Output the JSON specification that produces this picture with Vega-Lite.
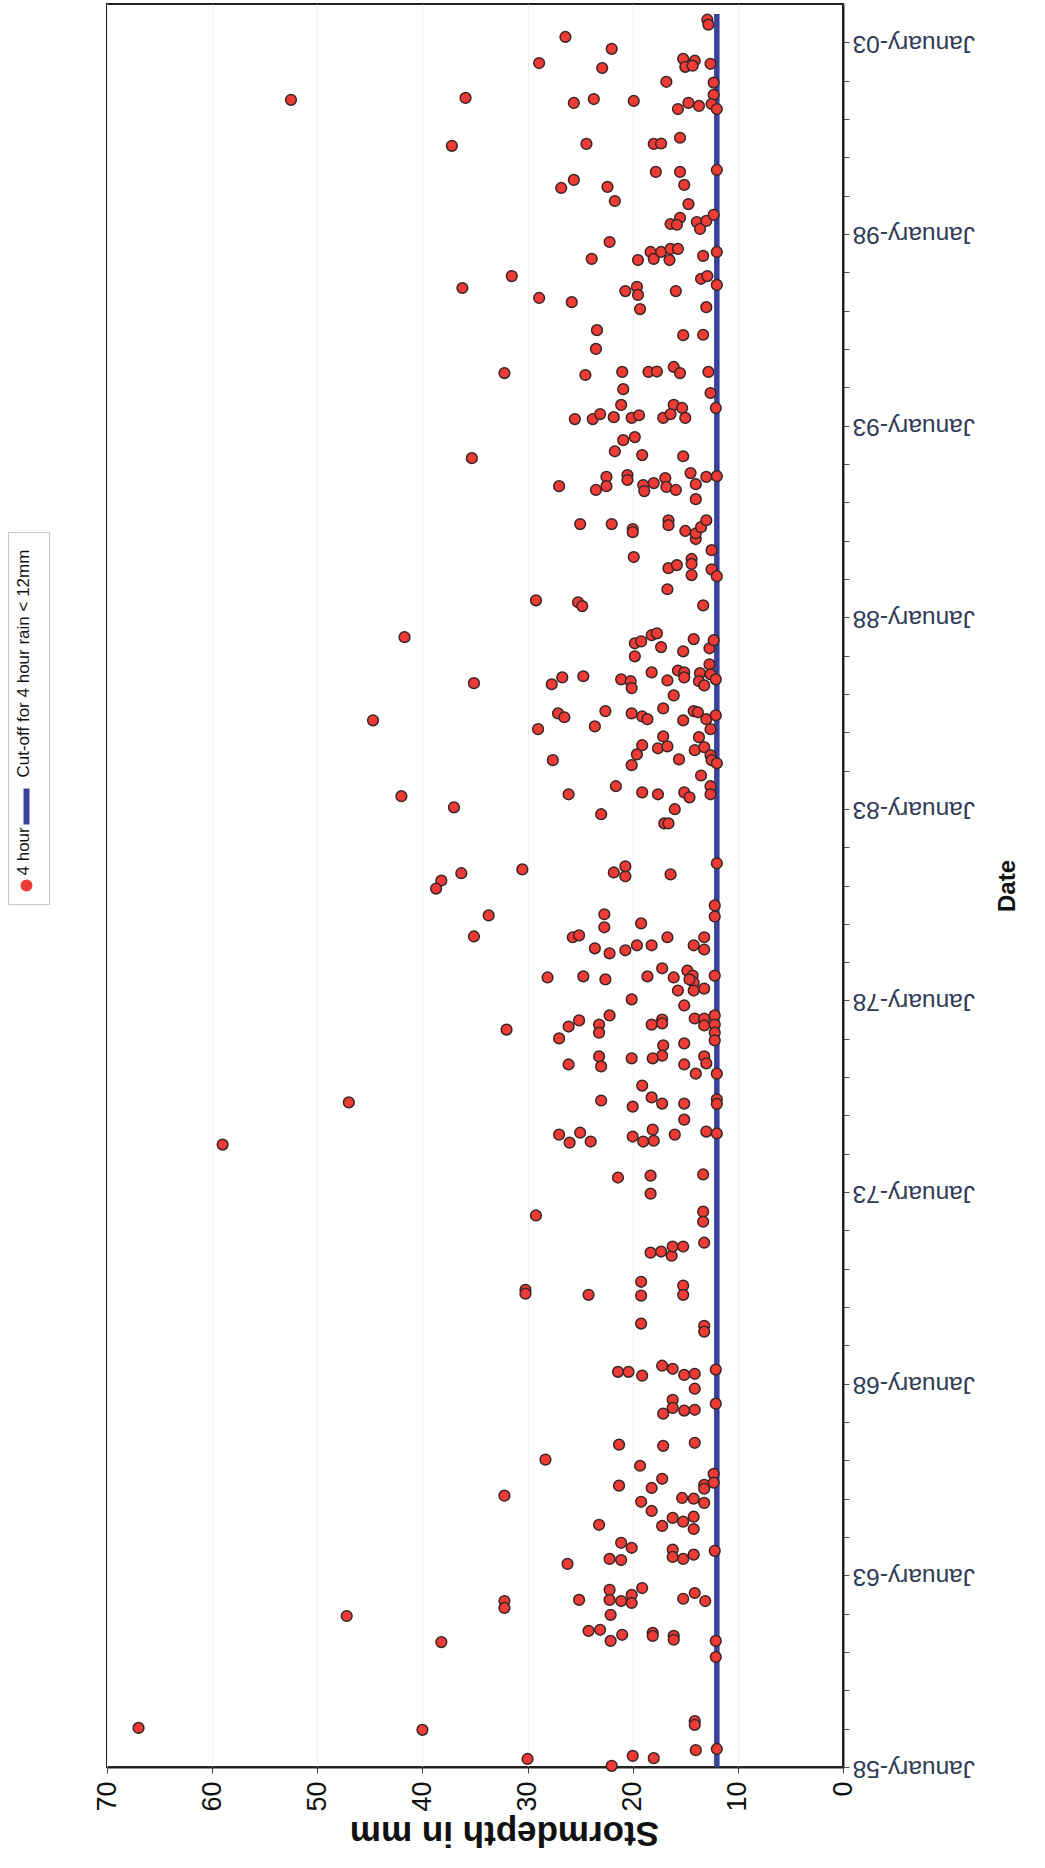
{
  "$schema": "https://vega.github.io/schema/vega-lite/v6.json",
  "width": 736,
  "height": 1763,
  "autosize": {"type": "none"},
  "padding": {"left": 107, "top": 4, "right": 202, "bottom": 101},
  "background": "white",
  "config": {
    "font": "Liberation Sans",
    "view": {"stroke": "#222", "strokeWidth": 2}
  },
  "datasets": {
    "rain": [
      {"t":2003.59,"d":12.9},{"t":2003.46,"d":12.8},{"t":2003.14,"d":26.4},{"t":2002.83,"d":22.0},{"t":2002.46,"d":28.9},{"t":2002.33,"d":22.9},{"t":2002.57,"d":15.2},{"t":2002.36,"d":15.0},{"t":2002.52,"d":14.1},{"t":2002.39,"d":14.3},{"t":2002.44,"d":12.6},{"t":2001.97,"d":16.8},{"t":2001.95,"d":12.3},{"t":2001.63,"d":12.3},{"t":2001.50,"d":52.5},{"t":2001.55,"d":35.9},{"t":2001.42,"d":25.6},{"t":2001.52,"d":23.7},{"t":2001.47,"d":19.9},{"t":2001.26,"d":15.7},{"t":2001.42,"d":14.7},{"t":2001.34,"d":13.7},{"t":2001.39,"d":12.5},{"t":2001.26,"d":12.0},{"t":2000.30,"d":37.2},{"t":2000.35,"d":24.4},{"t":2000.35,"d":18.0},{"t":2000.36,"d":17.3},{"t":2000.51,"d":15.5},{"t":1999.67,"d":12.0},{"t":1999.62,"d":17.8},{"t":1999.62,"d":15.5},{"t":1999.28,"d":15.1},{"t":1999.41,"d":25.6},{"t":1999.20,"d":26.8},{"t":1999.23,"d":22.4},{"t":1998.86,"d":21.7},{"t":1998.78,"d":14.7},{"t":1998.42,"d":15.5},{"t":1998.26,"d":16.4},{"t":1998.24,"d":15.8},{"t":1998.31,"d":13.9},{"t":1998.13,"d":13.6},{"t":1998.34,"d":13.0},{"t":1998.50,"d":12.3},{"t":1997.79,"d":22.2},{"t":1997.35,"d":23.9},{"t":1997.32,"d":19.5},{"t":1997.53,"d":18.3},{"t":1997.35,"d":18.0},{"t":1997.53,"d":17.3},{"t":1997.32,"d":16.5},{"t":1997.61,"d":16.4},{"t":1997.61,"d":15.7},{"t":1997.43,"d":13.3},{"t":1997.53,"d":12.0},{"t":1996.90,"d":31.5},{"t":1996.59,"d":36.2},{"t":1996.51,"d":20.7},{"t":1996.62,"d":19.6},{"t":1996.41,"d":19.5},{"t":1996.51,"d":15.9},{"t":1996.83,"d":13.5},{"t":1996.90,"d":12.9},{"t":1996.67,"d":12.0},{"t":1996.33,"d":28.9},{"t":1996.22,"d":25.8},
      {"t":1996.04,"d":19.3},{"t":1996.09,"d":13.0},{"t":1995.49,"d":23.4},{"t":1995.00,"d":23.5},{"t":1995.36,"d":15.2},{"t":1995.37,"d":13.3},{"t":1994.37,"d":32.2},{"t":1994.32,"d":24.5},{"t":1994.40,"d":21.0},{"t":1994.40,"d":18.5},{"t":1994.41,"d":17.7},{"t":1994.53,"d":16.1},{"t":1994.37,"d":15.5},{"t":1994.40,"d":12.8},{"t":1993.95,"d":20.9},{"t":1993.85,"d":12.6},{"t":1993.46,"d":12.1},{"t":1993.54,"d":21.1},{"t":1993.54,"d":16.1},{"t":1993.46,"d":15.3},{"t":1993.17,"d":25.5},{"t":1993.17,"d":23.8},{"t":1993.30,"d":23.1},{"t":1993.22,"d":21.8},{"t":1993.20,"d":20.1},{"t":1993.27,"d":19.4},{"t":1993.20,"d":17.1},{"t":1993.30,"d":16.4},{"t":1993.20,"d":15.0},{"t":1992.62,"d":20.9},{"t":1992.70,"d":19.8},{"t":1992.33,"d":21.7},{"t":1992.23,"d":19.1},{"t":1992.20,"d":15.2},{"t":1992.15,"d":35.3},{"t":1991.42,"d":27.0},{"t":1991.32,"d":23.5},{"t":1991.66,"d":22.5},{"t":1991.42,"d":22.5},{"t":1991.71,"d":20.5},{"t":1991.58,"d":20.5},{"t":1991.45,"d":19.0},{"t":1991.29,"d":18.9},{"t":1991.50,"d":18.0},{"t":1991.63,"d":16.9},{"t":1991.40,"d":16.8},{"t":1991.32,"d":15.9},{"t":1991.76,"d":14.5},{"t":1991.47,"d":14.0},{"t":1991.08,"d":14.0},{"t":1991.66,"d":13.0},{"t":1991.68,"d":12.0},{"t":1990.43,"d":25.0},{"t":1990.43,"d":22.0},{"t":1990.30,"d":20.0},{"t":1990.22,"d":20.0},{"t":1990.53,"d":16.6},{"t":1990.40,"d":16.6},{"t":1990.25,"d":15.0},{"t":1990.04,"d":14.0},{"t":1990.19,"d":14.0},{"t":1990.35,"d":13.5},{"t":1990.53,"d":13.0},{"t":1989.57,"d":19.9},{"t":1989.28,"d":16.6},{"t":1989.36,"d":15.8},{"t":1989.52,"d":14.4},{"t":1989.39,"d":14.4},{"t":1989.10,"d":14.4},{"t":1989.75,"d":12.5},{"t":1989.25,"d":12.5},{"t":1989.07,"d":12.0},{"t":1988.73,"d":16.7},
      {"t":1988.44,"d":29.2},{"t":1988.39,"d":25.2},{"t":1988.29,"d":24.8},{"t":1988.31,"d":13.3},{"t":1987.48,"d":41.7},{"t":1987.32,"d":19.8},{"t":1987.37,"d":19.2},{"t":1987.53,"d":18.2},{"t":1987.58,"d":17.7},{"t":1986.98,"d":19.8},{"t":1987.22,"d":17.3},{"t":1987.43,"d":14.2},{"t":1987.11,"d":15.2},{"t":1987.19,"d":12.7},{"t":1987.40,"d":12.3},{"t":1986.28,"d":35.1},{"t":1986.25,"d":27.7},{"t":1986.43,"d":26.7},{"t":1986.46,"d":24.7},{"t":1986.38,"d":21.1},{"t":1986.33,"d":20.2},{"t":1986.15,"d":20.1},{"t":1986.56,"d":18.2},{"t":1986.35,"d":16.7},{"t":1986.61,"d":15.7},{"t":1986.56,"d":15.1},{"t":1986.43,"d":15.1},{"t":1986.54,"d":13.6},{"t":1986.33,"d":13.7},{"t":1986.77,"d":12.7},{"t":1986.51,"d":12.6},{"t":1986.22,"d":13.2},{"t":1986.38,"d":12.1},{"t":1985.96,"d":16.1},{"t":1985.31,"d":44.7},{"t":1985.08,"d":29.0},{"t":1985.49,"d":27.1},{"t":1985.39,"d":26.5},{"t":1985.15,"d":23.6},{"t":1985.55,"d":22.6},{"t":1985.49,"d":20.1},{"t":1985.41,"d":19.1},{"t":1985.34,"d":18.6},{"t":1985.62,"d":17.1},{"t":1985.31,"d":15.2},{"t":1985.55,"d":14.2},{"t":1985.52,"d":13.8},{"t":1985.34,"d":13.0},{"t":1985.44,"d":12.1},{"t":1985.08,"d":12.6},{"t":1984.27,"d":27.6},{"t":1984.14,"d":20.1},{"t":1984.42,"d":19.6},{"t":1984.66,"d":19.1},{"t":1984.58,"d":17.6},{"t":1984.89,"d":17.1},{"t":1984.63,"d":16.7},{"t":1984.29,"d":15.6},{"t":1984.87,"d":13.7},{"t":1984.53,"d":14.1},{"t":1984.61,"d":13.2},{"t":1984.40,"d":12.6},{"t":1984.27,"d":12.5},{"t":1984.19,"d":12.0},{"t":1983.87,"d":13.5},{"t":1983.33,"d":42.0},{"t":1983.04,"d":37.0},{"t":1983.38,"d":26.1},{"t":1983.59,"d":21.6},{"t":1983.43,"d":19.1},{"t":1983.38,"d":17.6},{"t":1983.43,"d":15.1},{"t":1983.30,"d":14.6},{"t":1983.59,"d":12.6},{"t":1983.38,"d":12.6},{"t":1982.86,"d":23.0},{"t":1982.99,"d":16.0},{"t":1982.62,"d":17.0},{"t":1982.62,"d":16.6},{"t":1981.58,"d":12.0},{"t":1981.42,"d":30.5},{"t":1981.32,"d":36.3},{"t":1981.34,"d":21.8},{"t":1981.24,"d":20.7},{"t":1981.50,"d":20.7},{"t":1981.29,"d":16.4},
      {"t":1981.13,"d":38.2},{"t":1980.92,"d":38.7},{"t":1980.22,"d":33.7},{"t":1979.67,"d":35.1},{"t":1980.25,"d":22.7},{"t":1979.91,"d":22.7},{"t":1980.01,"d":19.2},{"t":1979.65,"d":25.7},{"t":1979.70,"d":25.1},{"t":1979.36,"d":23.6},{"t":1979.23,"d":22.2},{"t":1979.31,"d":20.7},{"t":1979.44,"d":19.6},{"t":1979.44,"d":18.2},{"t":1979.65,"d":16.7},{"t":1979.44,"d":14.2},{"t":1979.65,"d":13.2},{"t":1979.33,"d":13.2},{"t":1980.48,"d":12.2},{"t":1980.19,"d":12.2},{"t":1978.60,"d":28.1},{"t":1978.63,"d":24.7},{"t":1978.55,"d":22.6},{"t":1978.63,"d":18.6},{"t":1978.84,"d":17.2},{"t":1978.60,"d":16.1},{"t":1978.78,"d":14.8},{"t":1978.65,"d":14.3},{"t":1978.47,"d":14.2},{"t":1978.55,"d":14.6},{"t":1978.26,"d":15.7},{"t":1978.26,"d":14.2},{"t":1978.31,"d":13.2},{"t":1978.65,"d":12.2},{"t":1978.03,"d":20.1},{"t":1977.87,"d":15.1},{"t":1977.24,"d":32.0},{"t":1977.01,"d":27.0},{"t":1977.32,"d":26.1},{"t":1977.48,"d":25.1},{"t":1977.37,"d":23.2},{"t":1977.16,"d":23.2},{"t":1977.61,"d":22.2},{"t":1977.37,"d":18.2},{"t":1977.50,"d":17.2},{"t":1977.40,"d":17.2},{"t":1977.53,"d":14.1},{"t":1977.53,"d":13.2},{"t":1977.35,"d":13.2},{"t":1977.61,"d":12.2},{"t":1977.37,"d":12.2},{"t":1977.16,"d":12.2},{"t":1976.96,"d":12.2},{"t":1976.83,"d":17.1},{"t":1976.56,"d":17.2},{"t":1976.88,"d":15.1},{"t":1976.54,"d":23.2},{"t":1976.28,"d":23.0},{"t":1976.33,"d":26.1},{"t":1976.49,"d":20.1},{"t":1976.49,"d":18.1},{"t":1976.33,"d":15.1},{"t":1976.09,"d":14.0},{"t":1976.54,"d":13.2},{"t":1976.36,"d":13.0},{"t":1976.09,"d":12.0},{"t":1975.78,"d":19.1},{"t":1975.47,"d":18.2},{"t":1975.31,"d":17.2},{"t":1975.31,"d":15.1},{"t":1974.89,"d":15.1},{"t":1975.39,"d":23.0},{"t":1975.23,"d":20.0},{"t":1975.42,"d":12.0},{"t":1975.30,"d":12.0},{"t":1975.34,"d":47.0},{"t":1974.24,"d":59.0},{"t":1974.50,"d":27.0},{"t":1974.29,"d":26.0},{"t":1974.55,"d":25.0},{"t":1974.32,"d":24.0},{"t":1974.45,"d":20.0},{"t":1974.32,"d":19.0},{"t":1974.63,"d":18.1},{"t":1974.34,"d":18.0},{"t":1974.50,"d":16.0},{"t":1974.58,"d":13.0},{"t":1974.53,"d":12.0},
      {"t":1973.38,"d":21.4},{"t":1973.43,"d":18.3},{"t":1972.96,"d":18.3},{"t":1973.46,"d":13.3},{"t":1972.39,"d":29.2},{"t":1972.49,"d":13.3},{"t":1972.23,"d":13.3},{"t":1971.68,"d":13.2},{"t":1971.42,"d":18.3},{"t":1971.45,"d":17.3},{"t":1971.34,"d":16.3},{"t":1971.58,"d":16.2},{"t":1971.58,"d":15.2},{"t":1970.45,"d":30.2},{"t":1970.35,"d":30.2},{"t":1970.32,"d":24.2},{"t":1970.66,"d":19.2},{"t":1970.30,"d":19.2},{"t":1970.56,"d":15.2},{"t":1970.32,"d":15.2},{"t":1969.57,"d":19.2},{"t":1969.51,"d":13.2},{"t":1969.36,"d":13.2},{"t":1968.31,"d":21.4},{"t":1968.31,"d":20.4},{"t":1968.21,"d":19.1},{"t":1968.47,"d":17.2},{"t":1968.39,"d":16.2},{"t":1968.23,"d":15.1},{"t":1968.26,"d":14.1},{"t":1967.87,"d":14.1},{"t":1968.37,"d":12.1},{"t":1967.58,"d":16.2},{"t":1967.37,"d":16.2},{"t":1967.22,"d":17.1},{"t":1967.30,"d":15.1},{"t":1967.32,"d":14.1},{"t":1967.48,"d":12.1},{"t":1966.41,"d":21.3},{"t":1966.38,"d":17.1},{"t":1966.46,"d":14.1},
      {"t":1966.02,"d":28.3},{"t":1965.86,"d":19.3},{"t":1965.08,"d":32.2},{"t":1965.34,"d":21.3},{"t":1965.28,"d":18.2},{"t":1965.52,"d":17.2},{"t":1965.36,"d":13.2},{"t":1965.26,"d":13.2},{"t":1965.65,"d":12.3},{"t":1965.42,"d":12.3},{"t":1964.92,"d":19.2},{"t":1964.68,"d":18.2},{"t":1965.02,"d":15.3},{"t":1965.00,"d":14.2},{"t":1964.89,"d":13.2},{"t":1964.32,"d":23.2},{"t":1964.29,"d":17.2},{"t":1964.50,"d":16.2},{"t":1964.40,"d":15.2},{"t":1964.53,"d":14.2},{"t":1964.21,"d":14.2},{"t":1963.30,"d":26.2},{"t":1963.43,"d":22.2},{"t":1963.40,"d":21.1},{"t":1963.85,"d":21.1},{"t":1963.72,"d":20.1},{"t":1963.67,"d":16.2},{"t":1963.48,"d":16.2},{"t":1963.43,"d":15.2},{"t":1963.54,"d":14.2},{"t":1963.64,"d":12.2},{"t":1962.33,"d":32.2},{"t":1962.15,"d":32.2},{"t":1961.94,"d":47.2},{"t":1961.26,"d":38.2},{"t":1962.36,"d":25.1},{"t":1962.62,"d":22.2},{"t":1962.36,"d":22.2},{"t":1962.33,"d":21.1},{"t":1962.49,"d":20.1},{"t":1962.28,"d":20.1},{"t":1962.67,"d":19.1},{"t":1962.39,"d":15.2},{"t":1962.54,"d":14.1},{"t":1962.33,"d":13.1},{"t":1961.97,"d":22.1},{"t":1961.55,"d":24.2},{"t":1961.58,"d":23.1},{"t":1961.29,"d":22.1},{"t":1961.45,"d":21.0},{"t":1961.50,"d":18.1},{"t":1961.42,"d":18.1},{"t":1961.42,"d":16.1},{"t":1961.32,"d":16.1},{"t":1961.29,"d":12.1},{"t":1960.87,"d":12.1},{"t":1959.02,"d":67.0},{"t":1958.97,"d":40.0},{"t":1959.20,"d":14.1},{"t":1959.10,"d":14.1},{"t":1958.21,"d":30.0},{"t":1958.03,"d":22.0},{"t":1958.29,"d":20.0},{"t":1958.23,"d":18.0},{"t":1958.44,"d":14.0},{"t":1958.47,"d":12.0}
    ],
    "cutoff": [
      {"t": 1958.0, "d": 12},
      {"t": 2003.74, "d": 12}
    ]
  },
  "encoding": {
    "x": {
      "field": "d",
      "type": "quantitative",
      "scale": {"domain": [0, 70], "reverse": true, "nice": false},
      "axis": {
        "orient": "bottom",
        "values": [0, 10, 20, 30, 40, 50, 60, 70],
        "labelAngle": 270,
        "labelAlign": "right",
        "labelBaseline": "middle",
        "labelFontSize": 27,
        "labelColor": "#111",
        "labelPadding": 8,
        "tickSize": 6,
        "tickColor": "#444",
        "grid": true,
        "gridColor": "#f1f1f1",
        "gridWidth": 1,
        "domainColor": "#222",
        "domainWidth": 2,
        "title": "Stormdepth in mm",
        "titleAngle": 180,
        "titleBaseline": "bottom",
        "titleFontSize": 35,
        "titleFontWeight": "bold",
        "titleColor": "#111",
        "titlePadding": 3,
        "titleX": 397
      }
    },
    "y": {
      "field": "t",
      "type": "quantitative",
      "scale": {"domain": [1958, 2004], "nice": false, "zero": false},
      "axis": {
        "orient": "right",
        "values": [1958,1959,1960,1961,1962,1963,1964,1965,1966,1967,1968,1969,1970,1971,1972,1973,1974,1975,1976,1977,1978,1979,1980,1981,1982,1983,1984,1985,1986,1987,1988,1989,1990,1991,1992,1993,1994,1995,1996,1997,1998,1999,2000,2001,2002,2003],
        "labelExpr": "datum.value % 5 == 3 ? 'January-' + (datum.value % 100 < 10 ? '0' : '') + (datum.value % 100) : ''",
        "labelAngle": 180,
        "labelAlign": "right",
        "labelBaseline": "middle",
        "labelFontSize": 24.5,
        "labelColor": "#2f3a55",
        "labelPadding": 3,
        "labelOverlap": false,
        "labelFlush": false,
        "tickSize": 6,
        "tickColor": "#555",
        "grid": false,
        "domainColor": "#222",
        "domainWidth": 2,
        "title": "Date",
        "titleAngle": 270,
        "titleFontSize": 24,
        "titleFontWeight": "bold",
        "titleColor": "#111",
        "titlePadding": 45
      }
    }
  },
  "layer": [
    {
      "data": {"name": "cutoff"},
      "mark": {"type": "line", "strokeWidth": 5.5},
      "encoding": {
        "color": {
          "datum": "Cut-off for 4 hour rain < 12mm",
          "type": "nominal",
          "scale": {"domain": ["Cut-off for 4 hour rain < 12mm", "4 hour"], "range": ["#39439a", "#ef3b36"]},
          "legend": {
            "orient": "none",
            "legendX": -99,
            "legendY": 528,
            "direction": "vertical",
            "title": " ",
            "titleFontSize": 1,
            "titlePadding": 255,
            "strokeColor": "#c8c8c8",
            "fillColor": "white",
            "padding": 10,
            "labelFont": "Liberation Sans",
            "labelFontSize": 17,
            "labelColor": "#111",
            "labelLimit": 400,
            "rowPadding": -10,
            "symbolSize": 100,
            "encode": {
              "labels": {"update": {
                "angle": {"value": -90},
                "align": {"value": "left"},
                "baseline": {"value": "middle"},
                "x": {"value": 6},
                "dx": {"signal": "datum.value === '4 hour' ? 10 : 29"}
              }},
              "symbols": {"update": {
                "shape": {"signal": "datum.value === '4 hour' ? 'circle' : 'M0,-1L0,1'"},
                "size": {"signal": "datum.value === '4 hour' ? 110 : 1296"},
                "fill": {"signal": "datum.value === '4 hour' ? '#ef3b36' : 'transparent'"},
                "stroke": {"signal": "datum.value === '4 hour' ? '#3a2626' : '#39439a'"},
                "strokeWidth": {"signal": "datum.value === '4 hour' ? 1.5 : 6"}
              }}
            }
          }
        }
      }
    },
    {
      "data": {"name": "rain"},
      "mark": {"type": "point", "filled": true, "size": 115, "stroke": "#3a2626", "strokeWidth": 1.5, "opacity": 1},
      "encoding": {
        "color": {"datum": "4 hour", "type": "nominal"}
      }
    }
  ]
}
